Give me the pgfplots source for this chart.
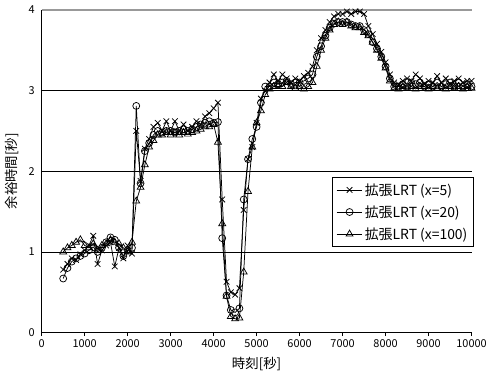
\documentclass[border=0pt]{standalone}
\usepackage{fontspec}
\setmainfont{Noto Sans CJK JP}
\usepackage{pgfplots}
\usepackage{pgfplotstable}
\pgfplotsset{compat=1.18}
\pgfplotstableread{
t A B C
500 0.78 0.67 1.00
600 0.85 0.80 1.05
700 0.92 0.88 1.08
800 0.90 0.92 1.12
900 0.97 0.95 1.15
1000 1.02 0.98 1.08
1100 1.08 1.02 1.05
1200 1.20 1.06 1.10
1300 0.85 1.00 1.02
1400 1.02 1.05 1.08
1500 1.08 1.12 1.10
1600 1.12 1.18 1.15
1700 0.82 1.15 1.12
1800 1.05 1.05 1.10
1900 0.92 0.95 1.05
2000 1.08 1.02 1.00
2100 0.98 1.05 1.12
2200 2.50 2.81 1.63
2300 1.88 1.85 1.80
2400 2.28 2.25 2.08
2500 2.40 2.35 2.30
2600 2.55 2.45 2.38
2700 2.60 2.50 2.45
2800 2.50 2.48 2.45
2900 2.62 2.50 2.48
3000 2.50 2.50 2.45
3100 2.62 2.48 2.48
3200 2.50 2.50 2.45
3300 2.58 2.52 2.48
3400 2.50 2.50 2.46
3500 2.55 2.52 2.48
3600 2.62 2.55 2.50
3700 2.58 2.58 2.52
3800 2.68 2.60 2.55
3900 2.72 2.62 2.55
4000 2.78 2.60 2.58
4100 2.85 2.61 2.36
4200 1.65 1.17 1.35
4300 0.63 0.46 0.45
4400 0.50 0.28 0.20
4500 0.47 0.25 0.17
4600 0.55 0.30 0.18
4700 1.52 1.65 0.75
4800 2.15 2.15 1.75
4900 2.30 2.40 2.30
5000 2.60 2.55 2.60
5100 2.90 2.85 2.75
5200 3.00 3.05 2.95
5300 3.10 3.05 3.02
5400 3.20 3.10 3.05
5500 3.12 3.08 3.05
5600 3.20 3.10 3.05
5700 3.15 3.12 3.10
5800 3.10 3.08 3.05
5900 3.15 3.10 3.03
6000 3.12 3.10 3.05
6100 3.18 3.12 3.02
6200 3.22 3.15 3.05
6300 3.30 3.20 3.10
6400 3.50 3.42 3.30
6500 3.65 3.55 3.50
6600 3.75 3.68 3.65
6700 3.85 3.78 3.75
6800 3.92 3.83 3.82
6900 3.95 3.85 3.85
7000 3.95 3.85 3.82
7100 3.98 3.85 3.85
7200 3.95 3.82 3.80
7300 3.98 3.80 3.78
7400 3.98 3.80 3.78
7500 3.95 3.75 3.72
7600 3.80 3.70 3.68
7700 3.70 3.60 3.60
7800 3.58 3.52 3.50
7900 3.48 3.42 3.40
8000 3.35 3.30 3.28
8100 3.20 3.15 3.12
8200 3.10 3.05 3.03
8300 3.08 3.05 3.02
8400 3.12 3.08 3.05
8500 3.15 3.05 3.03
8600 3.12 3.10 3.05
8700 3.20 3.08 3.02
8800 3.15 3.10 3.05
8900 3.08 3.05 3.05
9000 3.12 3.08 3.02
9100 3.10 3.05 3.05
9200 3.18 3.10 3.03
9300 3.10 3.05 3.05
9400 3.15 3.08 3.02
9500 3.08 3.10 3.05
9600 3.12 3.05 3.03
9700 3.15 3.10 3.05
9800 3.10 3.05 3.02
9900 3.12 3.08 3.05
10000 3.12 3.05 3.03
}\data
\begin{document}
\begin{tikzpicture}
\begin{axis}[
  name=ax,
  scale only axis,
  width=433pt, height=325pt,
  xmin=0, xmax=10000, ymin=0, ymax=4,
  axis lines=left,
  axis line style={-, black, line width=0.9pt},
  clip=false,
  xtick={0,1000,...,10000},
  ytick={0,1,2,3},
  extra y ticks={4},
  extra y tick style={grid style={color=black!40, line width=1.6pt}},
  ymajorgrids,
  grid style={black, line width=0.8pt},
  tick align=outside,
  xtick style={black, line width=0.7pt},
  major tick length=3.5pt,
  ytick style={draw=none},
  /pgf/number format/assume math mode=true,
  /pgf/number format/set thousands separator={},
  scaled x ticks=false,
  tick label style={font=\fontsize{11}{13}\selectfont},
  xlabel={時刻[秒]},
  ylabel={余裕時間[秒]},
  every axis y label/.style={at={(axis description cs:-0.069,0.5)}, rotate=90, anchor=center, font=\fontsize{13.5}{16}\selectfont},
  every axis x label/.style={at={(axis description cs:0.5,-0.098)}, anchor=center, font=\fontsize{13.5}{16}\selectfont},
  legend style={at={(rel axis cs:1.005,0.482)}, anchor=north east, draw=black, line width=0.7pt,
    font=\fontsize{14}{16}\selectfont, row sep=5pt, inner xsep=4pt, inner ysep=4pt},
  legend cell align=left,
  legend image code/.code={\draw[mark repeat=2,mark phase=2] plot coordinates {(0pt,0pt) (13pt,0pt) (26pt,0pt)};},
]
\addplot[black, line width=0.75pt, mark=x, mark size=4pt, mark options={solid}] table[x=t,y=A] {\data};
\addlegendentry{拡張LRT (x=5)}
\addplot[black, line width=0.75pt, mark=o, mark size=3.5pt, mark options={solid}] table[x=t,y=B] {\data};
\addlegendentry{拡張LRT (x=20)}
\addplot[black, line width=0.75pt, mark=triangle, mark size=4pt, mark options={solid}] table[x=t,y=C] {\data};
\addlegendentry{拡張LRT (x=100)}
\end{axis}
\path (ax.south west) ++(-42pt,-43pt) rectangle ++(490pt,378pt);
\end{tikzpicture}
\end{document}
